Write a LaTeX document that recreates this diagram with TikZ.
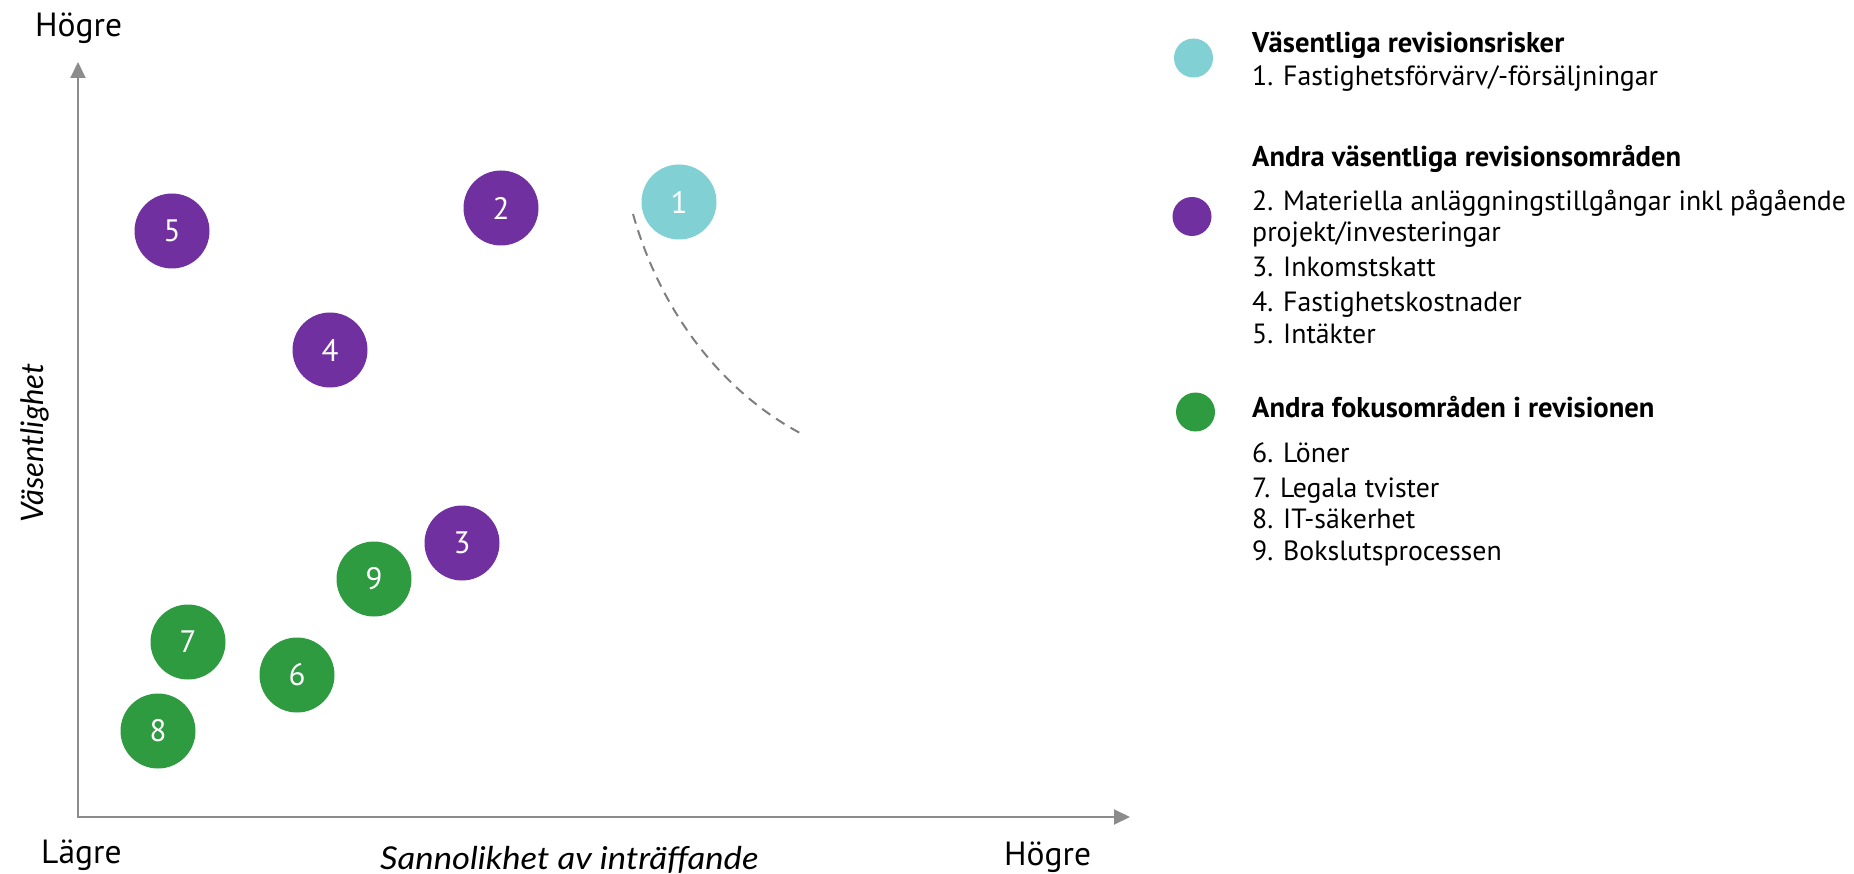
\documentclass[tikz,border=0pt]{standalone}
\usepackage{fontspec}
\setmainfont{PT Sans}
\newfontfamily\titfont{Lato}
\newfontfamily\widetitfont[FakeStretch=1.1]{Lato}
\usetikzlibrary{arrows.meta}
\definecolor{cyanc}{HTML}{80D0D4}
\definecolor{purplec}{HTML}{7030A0}
\definecolor{greenc}{HTML}{2E9B41}
\definecolor{axisc}{HTML}{8C8C8C}
\definecolor{dashc}{HTML}{7F7F7F}
\begin{document}
\begin{tikzpicture}[x=1pt,y=-1pt,
  bubble/.style={circle, minimum size=75pt, inner sep=0pt, text=white, font=\fontsize{31}{31}\selectfont},
  legdot/.style={circle, minimum size=39pt, inner sep=0pt},
  legtxt/.style={anchor=base west, inner sep=0pt, font=\fontsize{27.8}{32}\selectfont},
  leghead/.style={anchor=base west, inner sep=0pt, font=\fontsize{28.6}{32}\selectfont\bfseries},
  axlabel/.style={anchor=base west, inner sep=0pt, font=\fontsize{33.5}{33.5}\selectfont},
  axtitle/.style={anchor=base west, inner sep=0pt, font=\fontsize{31}{31}\selectfont\titfont\itshape},
  axisline/.style={draw=axisc, line width=2pt, {Triangle[length=16pt,width=15pt]}-{Triangle[length=16pt,width=15pt]}},
]
\useasboundingbox (0,0) rectangle (1854,874);
% axes
\coordinate (O) at (78,817);
\coordinate (Ytip) at (78,62);
\coordinate (Xtip) at (1130,817);
\draw[axisline] (Ytip) -- (O) -- (Xtip);
% axis labels
\node[axlabel] (hiy) at (35,37) {Högre};
\node[axlabel] (lox) at (41,863) {Lägre};
\node[axlabel] (hix) at (1004,865) {Högre};
\node[axtitle, font=\fontsize{31.5}{31.5}\selectfont\widetitfont\itshape] (xlab) at (380,869) {Sannolikhet av inträffande};
\node[axtitle, rotate=90] (ylab) at (43,523) {Väsentlighet};
% dashed boundary
\coordinate (d1) at (633,214);
\coordinate (d2) at (800,433);
\draw[dashc, line width=2pt, dash pattern=on 10pt off 7pt] (d1) .. controls (660,310) and (720,390) .. (d2);
% bubbles
\node[bubble, fill=cyanc] (b1) at (679,202) {1};
\node[bubble, fill=purplec] (b2) at (501,208) {2};
\node[bubble, fill=purplec] (b3) at (462,543) {3};
\node[bubble, fill=purplec] (b4) at (330,350) {4};
\node[bubble, fill=purplec] (b5) at (172,231) {5};
\node[bubble, fill=greenc] (b6) at (297,675) {6};
\node[bubble, fill=greenc] (b7) at (188,642) {7};
\node[bubble, fill=greenc] (b8) at (158,731) {8};
\node[bubble, fill=greenc] (b9) at (374,579) {9};
% legend
\node[legdot, fill=cyanc] (l1) at (1193.5,58) {};
\node[legdot, fill=purplec] (l2) at (1192,216.5) {};
\node[legdot, fill=greenc] (l3) at (1195.5,412) {};
\node[leghead] (h1) at (1252,53) {Väsentliga revisionsrisker};
\node[legtxt] (t1) at (1252,86) {1. Fastighetsförvärv/-försäljningar};
\node[leghead] (h2) at (1252,167) {Andra väsentliga revisionsområden};
\node[legtxt] (t2) at (1252,211) {2. Materiella anläggningstillgångar inkl pågående};
\node[legtxt] (t2b) at (1252,242) {projekt/investeringar};
\node[legtxt] (t3) at (1252,277) {3. Inkomstskatt};
\node[legtxt] (t4) at (1252,312) {4. Fastighetskostnader};
\node[legtxt] (t5) at (1252,344) {5. Intäkter};
\node[leghead] (h3) at (1252,417) {Andra fokusområden i revisionen};
\node[legtxt] (t6) at (1252,462) {6. Löner};
\node[legtxt] (t7) at (1252,497) {7. Legala tvister};
\node[legtxt] (t8) at (1252,528) {8. IT-säkerhet};
\node[legtxt] (t9) at (1252,560) {9. Bokslutsprocessen};
\end{tikzpicture}
\end{document}
